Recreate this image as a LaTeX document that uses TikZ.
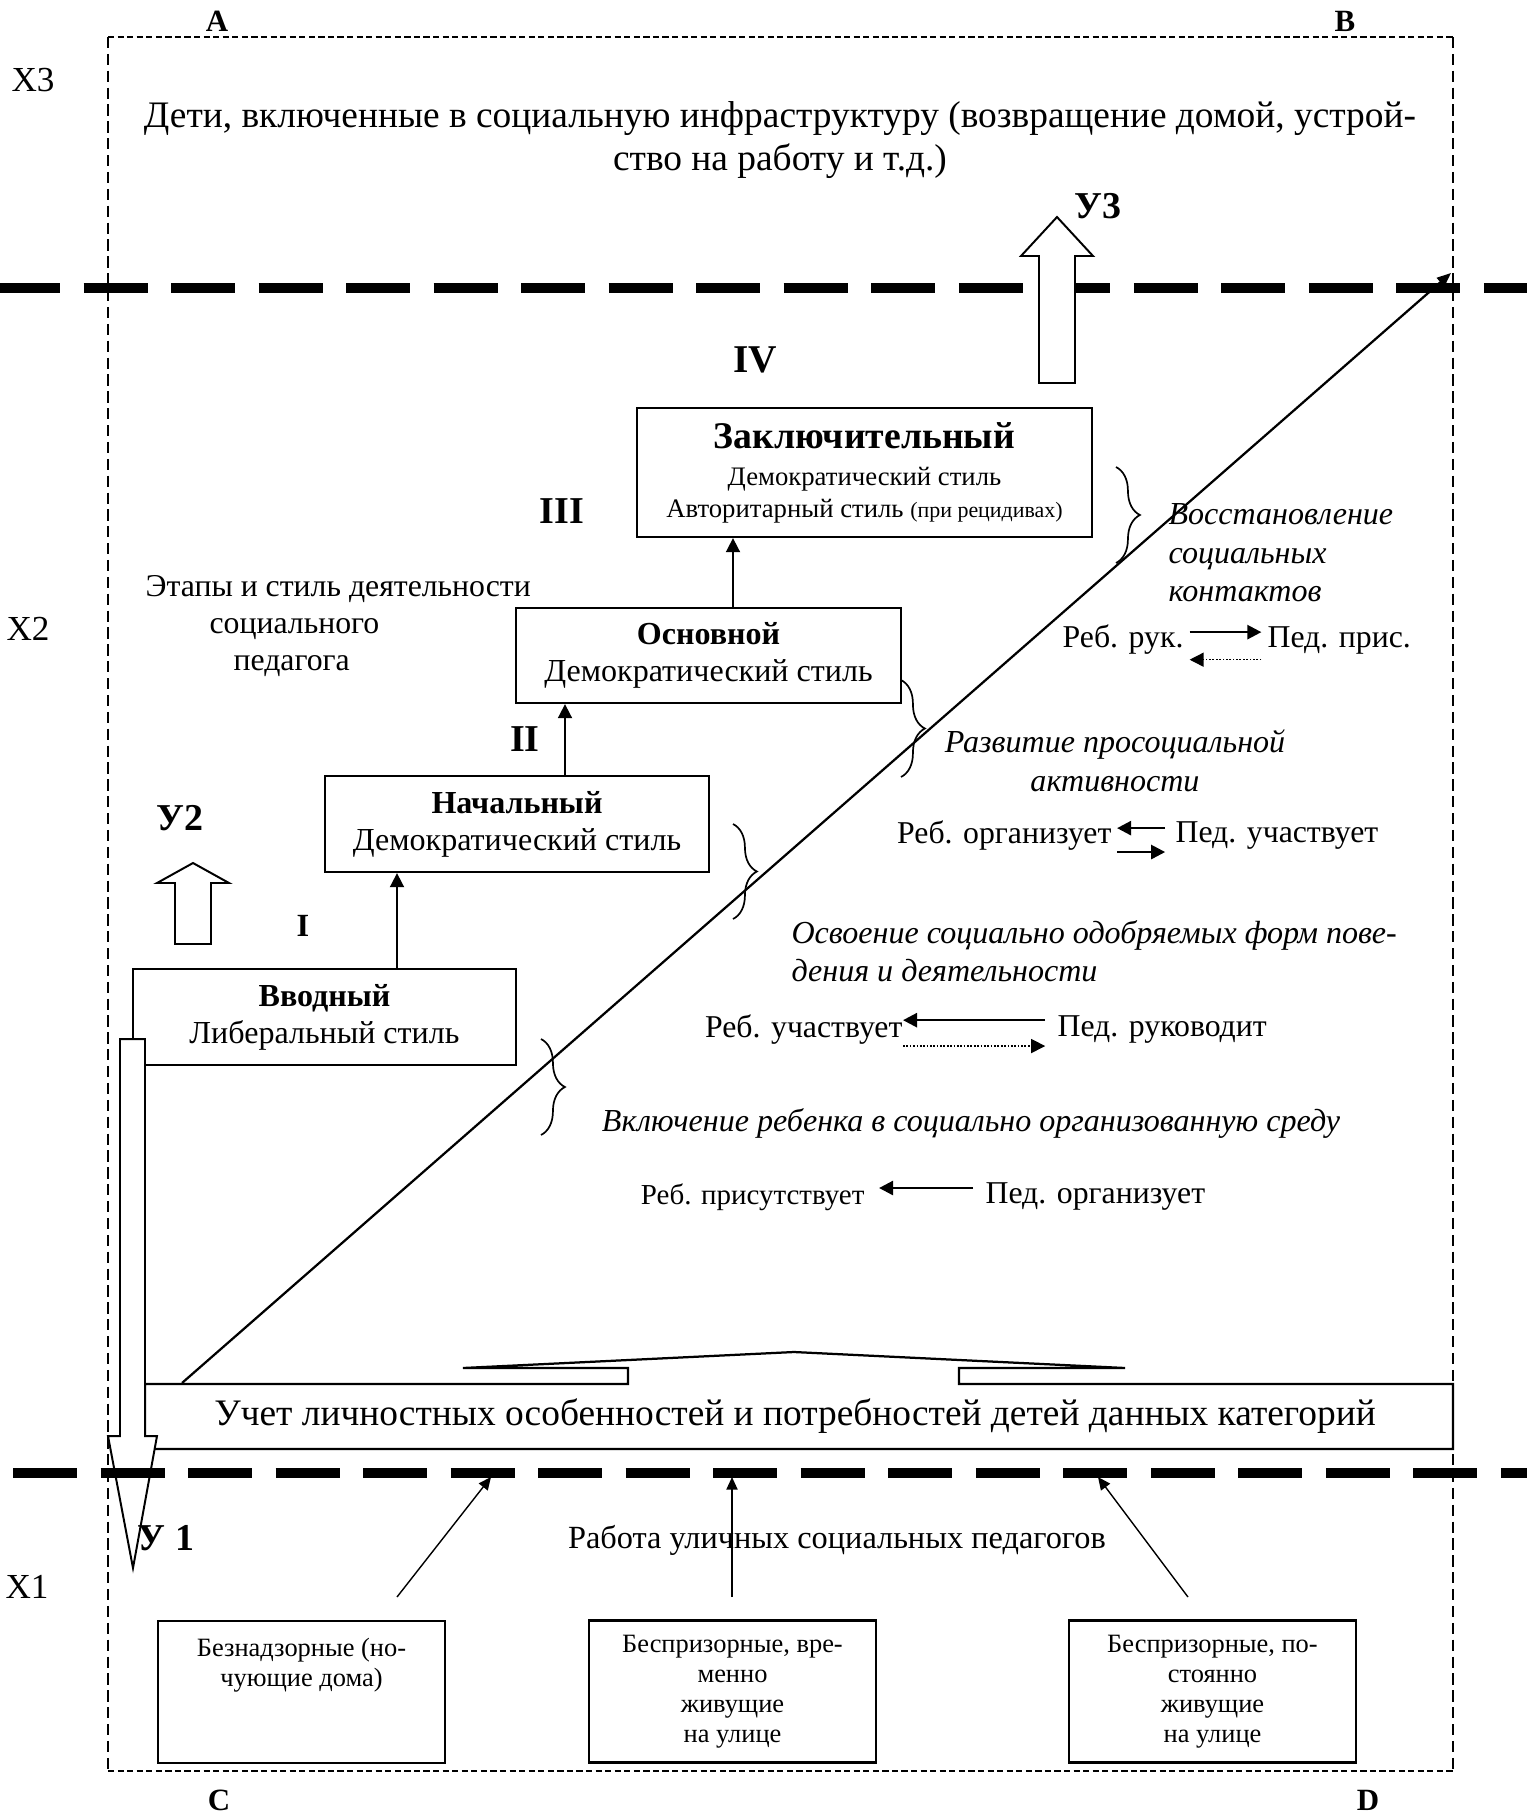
\documentclass[tikz,border=0pt]{standalone}
\usepackage{fontspec}
\setmainfont{Liberation Serif}
\usetikzlibrary{arrows.meta,calc,decorations.pathreplacing}

\begin{document}
\begin{tikzpicture}[x=0.125mm,y=-0.125mm]
\tikzstyle{border}=[line width=0.5pt,dash pattern=on 4pt off 2pt]
\tikzstyle{borderh}=[line width=0.6pt,dash pattern=on 2.2pt off 1.2pt]
\tikzstyle{zoneline}=[line width=3.6pt,dash pattern=on 0.8cm off 0.294cm]
\tikzstyle{blockarrow}=[draw,fill=white,line width=0.7pt]
\tikzstyle{stagebox}=[draw,line width=0.8pt,align=center,inner sep=0pt,font=\fontsize{11.4}{13.2}\selectfont]
\tikzstyle{stagearrow}=[-{Triangle[length=5pt,width=5pt]},line width=0.6pt]
\tikzstyle{numeral}=[font=\bfseries\fontsize{13.5}{13.5}\selectfont]
\tikzstyle{corner}=[font=\bfseries\fontsize{11}{11}\selectfont]
\tikzstyle{zone}=[font=\fontsize{12.5}{12.5}\selectfont]
\tikzstyle{phase}=[inner sep=0pt,font=\itshape\fontsize{11.4}{13.7}\selectfont]
\tikzstyle{rel}=[inner sep=0pt,font=\fontsize{11.3}{11.3}\selectfont]
\tikzstyle{relarrow}=[-{Triangle[length=5pt,width=5pt]},line width=0.9pt]
\tikzstyle{reldots}=[line width=0.5pt,dash pattern=on 0.6pt off 0.6pt]
\tikzstyle{brc}=[decorate,decoration={brace,amplitude=8.5pt},line width=0.6pt]
\tikzstyle{catbox}=[draw,line width=0.8pt,align=center,inner sep=0pt,minimum width=3.5875cm,minimum height=1.775cm,font=\fontsize{9.4}{10.7}\selectfont]
\tikzstyle{workarrow}=[-{Triangle[length=4.5pt,width=4pt]},line width=0.5pt]

\useasboundingbox (0,0) rectangle (1526,1820);

% frame and zones
\draw[borderh] (108,37) -- (1453,37);
\draw[borderh] (108,1771) -- (1453,1771);
\draw[border] (108,37) -- (108,1771);
\draw[border] (1453,37) -- (1453,1771);
\node[corner] (A) at (217,21) {A};
\node[corner] (B) at (1345,21) {B};
\node[corner] (C) at (219,1800) {C};
\node[corner] (D) at (1368,1800) {D};
\node[zone] (X3) at (33,80) {X3};
\node[zone] (X2) at (28,629) {X2};
\node[zone] (X1) at (27,1587) {X1};
\draw[zoneline] (-4,288) -- (1530,288);

\node[align=center,font=\fontsize{13.3}{15.6}\selectfont] (top) at (780,140)
  {Дети, включенные в социальную инфраструктуру (возвращение домой, устрой-\\ство на работу и т.д.)};

% exit arrow
\draw[blockarrow] (1039,383) -- (1039,256) -- (1021,256) -- (1057,217) -- (1093,256)
  -- (1075,256) -- (1075,383) -- cycle;
\node[numeral] (Y3) at (1098,206) {У3};

% stages
\node[stagebox,minimum width=5.6875cm,minimum height=1.6125cm,font=\fontsize{9.5}{11.4}\selectfont] (zakl) at (864.5,472.5)
  {{\bfseries\fontsize{13.4}{13.4}\selectfont Заключительный}\\[1.8pt]
   Демократический стиль\\
   Авторитарный стиль {\fontsize{7.8}{9}\selectfont (при рецидивах)}};
\node[stagebox,minimum width=4.8125cm,minimum height=1.1875cm] (osn) at (708.5,655.5)
  {{\bfseries Основной}\\ Демократический стиль};
\node[stagebox,minimum width=4.8cm,minimum height=1.2cm] (nach) at (517,824)
  {{\bfseries Начальный}\\ Демократический стиль};
\node[stagebox,minimum width=4.7875cm,minimum height=1.2cm] (vvod) at (324.5,1017)
  {{\bfseries Вводный}\\ Либеральный стиль};

\coordinate (s1) at (397,969);
\coordinate (s2) at (565,776);
\coordinate (s3) at (733,608);
\draw[stagearrow] (s1) -- (s1 |- nach.south);
\draw[stagearrow] (s2) -- (s2 |- osn.south);
\draw[stagearrow] (s3) -- (s3 |- zakl.south);

\node[numeral,font=\bfseries\fontsize{11.5}{11.5}\selectfont] (n1) at (303,926) {I};
\node[numeral] (n2) at (525,739) {II};
\node[numeral] (n3) at (562,511) {III};
\node[numeral,font=\bfseries\fontsize{14}{14}\selectfont] (n4) at (755,360) {IV};

\node[anchor=west,align=left,inner sep=0pt,font=\fontsize{11.3}{13.2}\selectfont] (etapy) at (145,626)
  {Этапы и стиль деятельности\\\hspace*{0.8cm}социального\\\hspace*{1.1cm}педагога};

\draw[blockarrow] (175,944) -- (175,883) -- (157,883) -- (193,863) -- (229,883)
  -- (211,883) -- (211,944) -- cycle;
\node[numeral] (Y2) at (180,818) {У2};

% growth line
\coordinate (diagS) at (182,1383);
\coordinate (diagE) at (1451,273);
\draw[-{Triangle[length=5pt,width=4pt]},line width=0.8pt] (diagS) -- (diagE);

\draw[brc] (1116,467) -- (1116,563);
\draw[brc] (901,680) -- (901,777);
\draw[brc] (733,824) -- (733,919);
\draw[brc] (541,1039) -- (541,1135);

\node[phase,anchor=west,align=left] (vosst) at (1168,553)
  {Восстановление\\социальных\\контактов};
\node[phase,align=center] (razv) at (1115,761)
  {Развитие просоциальной\\активности};
\node[phase,anchor=west,align=left] (osv) at (791,951)
  {Освоение социально одобряемых форм пове-\\дения и деятельности};
\node[phase] (vkl) at (971,1123)
  {Включение ребенка в социально организованную среду};

% relations
\node[rel,anchor=east] (reb1) at (1184,640) {Реб. рук.};
\node[rel,anchor=west] (ped1) at (1267,640) {Пед. прис.};
\draw[relarrow] ([xshift=2pt,yshift=2.8pt]reb1.east) -- ([xshift=-2pt,yshift=2.8pt]ped1.west);
\draw[relarrow,reldots] ([xshift=-2pt,yshift=-7pt]ped1.west) -- ([xshift=2pt,yshift=-7pt]reb1.east);

\node[rel,anchor=east] (reb2) at (1112,836) {Реб. организует};
\node[rel,anchor=west] (ped2) at (1175,836) {Пед. участвует};
\draw[relarrow] ([xshift=-3.5pt,yshift=2.8pt]ped2.west) -- ([xshift=1.8pt,yshift=2.8pt]reb2.east);
\draw[relarrow] ([xshift=1.8pt,yshift=-5.7pt]reb2.east) -- ([xshift=-3.5pt,yshift=-5.7pt]ped2.west);

\node[rel,anchor=east] (reb3) at (903,1030) {Реб. участвует};
\node[rel,anchor=west] (ped3) at (1057,1030) {Пед. руководит};
\draw[relarrow] ([xshift=-4.2pt,yshift=3.5pt]ped3.west) -- ([yshift=3.5pt]reb3.east);
\draw[relarrow,reldots] ([yshift=-5.7pt]reb3.east) -- ([xshift=-4.2pt,yshift=-5.7pt]ped3.west);

\node[rel,anchor=east,font=\fontsize{10.3}{10.3}\selectfont] (reb4) at (865,1197) {Реб. присутствует};
\node[rel,anchor=west] (ped4) at (985,1197) {Пед. организует};
\draw[relarrow] ([xshift=-4.2pt,yshift=3.2pt]ped4.west) -- ([xshift=5pt,yshift=3.2pt]reb4.east);

% needs
\node[font=\fontsize{13.3}{13.3}\selectfont] (uchet) at (795,1416)
  {Учет личностных особенностей и потребностей детей данных категорий};
\draw[line width=0.8pt] (145,1384) -- (628,1384) -- (628,1368) -- (463,1368) -- (794,1352)
  -- (1125,1368) -- (959,1368) -- (959,1384) -- (1453,1384) -- (1453,1449) -- (145,1449) -- cycle;

\draw[blockarrow] (120,1039) -- (120,1436) -- (108,1436) -- (133,1568) -- (157,1436)
  -- (145,1436) -- (145,1039) -- cycle;
\node[numeral] (Y1) at (166,1538) {У 1};
\draw[zoneline] (13,1473) -- (1530,1473);

% street work
\node[font=\fontsize{11.5}{11.5}\selectfont] (rabota) at (837,1540) {Работа уличных социальных педагогов};

\node[catbox] (cat1) at (301.5,1692) {Безнадзорные (но-\\чующие дома)\\\mbox{}\\\mbox{}};
\node[catbox] (cat2) at (732.5,1691.5) {Беспризорные, вре-\\менно\\живущие\\на улице};
\node[catbox] (cat3) at (1212.5,1691.5) {Беспризорные, по-\\стоянно\\живущие\\на улице};

\coordinate (w1) at (397,1597);
\coordinate (w2) at (732,1597);
\coordinate (w3) at (1188,1597);
\coordinate (t1) at (491,1477);
\coordinate (t2) at (732,1477);
\coordinate (t3) at (1098,1477);
\foreach \i in {1,2,3}
  \draw[workarrow] (w\i) -- (t\i);
\end{tikzpicture}
\end{document}
